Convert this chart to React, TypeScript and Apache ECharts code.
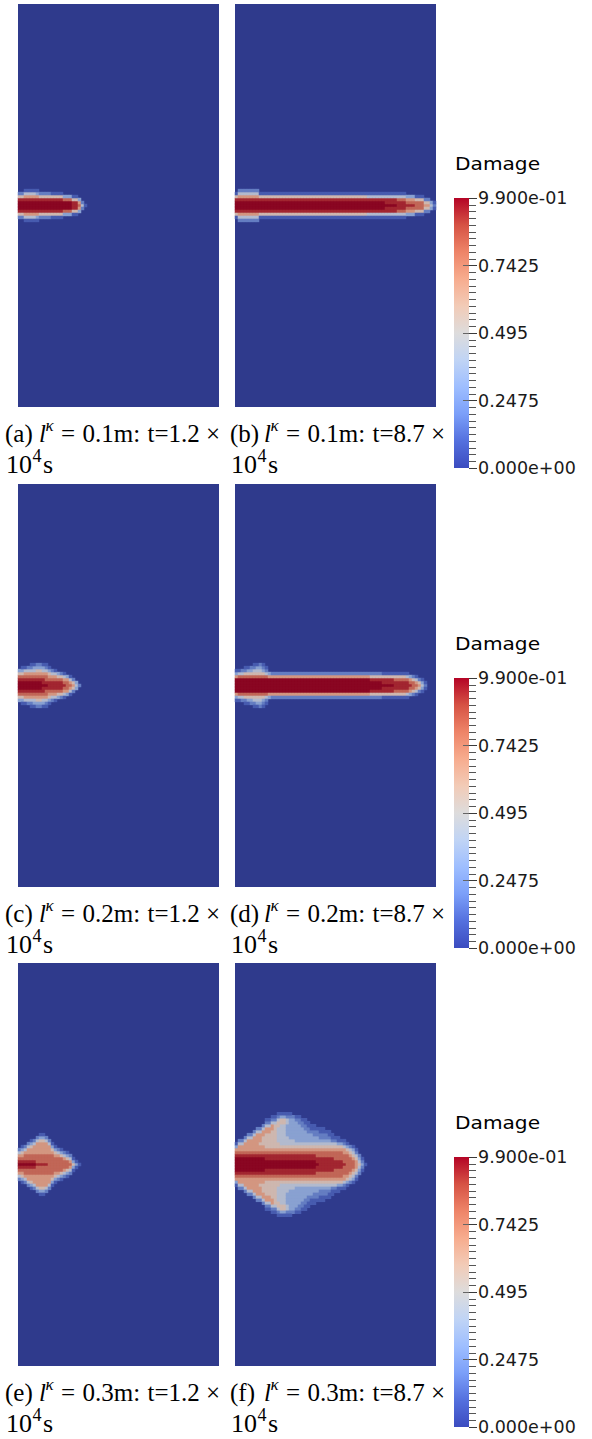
import { useEffect, useRef } from "react";
import * as echarts from "echarts";

const WIDTH = 592;
const HEIGHT = 1439;

// ---- data: damage fields ----
// Each panel is 67 columns (3 px each) by 135 rows; the crack runs along the middle row.
// Every entry is [half-profile, number of consecutive columns with that profile].
// A half-profile lists digits from the crack axis outwards (one per row);
// digit n stands for a damage of n / 9 * 0.99. The field is symmetric about the axis.
const damageA: [string, number][] = [
  ["998520", 2], ["998641", 4], ["998631", 1], ["99852", 4], ["99851", 4],
  ["9973", 3], ["8851", 2], ["763", 1], ["42", 1], ["1", 1],
];
const damageB: [string, number][] = [
  ["99851", 1], ["998642", 7], ["99851", 36], ["99841", 6], ["98841", 4],
  ["88741", 3], ["8763", 3], ["7751", 3], ["652", 2], ["43", 1], ["21", 1],
];
const damageC: [string, number][] = [
  ["998753", 1], ["9987531", 1], ["9987641", 1], ["9987642", 1], ["99876421", 1],
  ["99876431", 1], ["99876532", 2], ["98876431", 1], ["98776421", 1], ["8876531", 1],
  ["887642", 1], ["887641", 1], ["88753", 1], ["88752", 1], ["87641", 1],
  ["7763", 1], ["7641", 1], ["652", 1], ["43", 1], ["2", 1],
];
const damageD: [string, number][] = [
  ["999631", 1], ["999741", 1], ["999742", 1], ["9997521", 1], ["9997531", 1],
  ["9997532", 1], ["99975421", 1], ["99975431", 1], ["99975432", 1], ["99975321", 1],
  ["9997421", 1], ["99963", 1], ["99962", 33], ["99852", 4], ["98851", 4], ["88751", 4],
  ["88741", 1], ["8763", 1], ["7752", 1], ["7641", 1], ["652", 1], ["431", 1], ["21", 1],
];
const damageE: [string, number][] = [
  ["987642", 1], ["9876531", 1], ["9877642", 1], ["98776642", 1], ["987766531", 1],
  ["987766642", 1], ["8777666642", 1], ["87776666531", 2], ["8777666642", 1],
  ["777766642", 1], ["77776531", 1], ["7776531", 1], ["777642", 1], ["777531", 1],
  ["77642", 1], ["77531", 1], ["7642", 1], ["531", 1], ["31", 1], ["1", 1],
];
const damageF: [string, number][] = [
  ["99987631", 1], ["999876642", 2], ["9998766642", 1], ["99987666642", 2],
  ["999876666642", 1], ["9998766666642", 1], ["9998766566642", 1], ["99987665556642", 1],
  ["9988765555566421", 2], ["99887655555566421", 1], ["99887655555555421", 1],
  ["998876554444455421", 1], ["998876544444445531", 2], ["998876544433334421", 1],
  ["998876544333333321", 1], ["99887654433333332", 1], ["99887654333333321", 1],
  ["99887654333333221", 1], ["9988765433333221", 1], ["9988765433332211", 1],
  ["998876543332211", 1], ["99887654333211", 1], ["99887654332211", 1],
  ["9887765433221", 1], ["8887765432211", 2], ["888776543221", 1], ["888776543211", 1],
  ["88877654211", 1], ["8877765421", 1], ["8877765311", 1], ["887776531", 1],
  ["877766421", 1], ["77776531", 1], ["7776542", 1], ["7765431", 1], ["665421", 1],
  ["5432", 1], ["321", 1], ["1", 1],
];
const panelFields = [damageA, damageB, damageC, damageD, damageE, damageF];

const DAMAGE_MAX = 0.99;
const colorbarTicks = [0, 0.2475, 0.495, 0.7425, 0.99];
const colorbarLabels = ["0.000e+00", "0.2475", "0.495", "0.7425", "9.900e-01"];
const colorbarTitle = "Damage";

const captionLetters = ["a", "b", "c", "d", "e", "f"];
const kappaLengths = ["0.1", "0.2", "0.3"];
const captionTimes = ["1.2", "8.7"];

// ---- layout / style ----
const PANEL_COLS = 67;
const PANEL_ROWS = 135;
const CENTER_ROW = 67;
const PANEL_TOPS = [4, 484, 963];
const PANEL_LEFTS = [18, 235];
const PANEL_W = 201;
const PANEL_H = 403;
const CB_LEFT = 454;
const CB_W = 15;
const CB_H = 270;
const CB_TOP_OFFSET = 194; // from panel top
const CAPTION_LEFTS = [5, 230];

const PANEL_COLORS = [
  "#2f3a8c", "#4a5fb3", "#6c86c6", "#98aed6", "#c6c4c8",
  "#d8a690", "#c97761", "#a52a32", "#8a0622",
];
const CB_COLORS = [
  "#3b4cc0", "#5470de", "#7b9ff9", "#9ebeff", "#c0d4f5", "#dddcdc",
  "#f2cbb7", "#f7ac8e", "#ee8468", "#d65244", "#b40426",
];

function fieldCells(profiles: [string, number][]) {
  const cells: number[][] = [];
  let col = 0;
  for (const [profile, count] of profiles) {
    for (let k = 0; k < count; k++) {
      for (let d = 0; d < profile.length; d++) {
        const v = (Number(profile[d]) / 9) * DAMAGE_MAX;
        if (v <= 0) continue;
        cells.push([col, CENTER_ROW - d, v]);
        if (d > 0) cells.push([col, CENTER_ROW + d, v]);
      }
      col++;
    }
  }
  return cells;
}

function labelFor(v: number) {
  const i = colorbarTicks.findIndex((t) => Math.abs(t - v) < 1e-6);
  return i >= 0 ? colorbarLabels[i] : "";
}

const SERIF = '"Liberation Serif", "Times New Roman", serif';
const SANS = '"DejaVu Sans", sans-serif';

function txt(x: number, y: number, text: string, size: number, family: string, italic = false, extra: any = {}) {
  return {
    type: "text",
    x,
    y,
    silent: true,
    ...extra,
    style: {
      text,
      fontSize: size,
      fontFamily: family,
      fontStyle: italic ? "italic" : "normal",
      fill: "#000",
      align: "left",
      verticalAlign: "middle",
    },
  };
}

function buildOption() {
  const colCats = Array.from({ length: PANEL_COLS }, (_, i) => String(i));
  const rowCats = Array.from({ length: PANEL_ROWS }, (_, i) => String(i));

  const grids: any[] = [];
  const xAxes: any[] = [];
  const yAxes: any[] = [];
  const series: any[] = [];
  const graphics: any[] = [];

  // panels
  PANEL_TOPS.forEach((top, r) => {
    PANEL_LEFTS.forEach((left, k) => {
      const i = r * 2 + k;
      grids.push({
        left, top, width: PANEL_W, height: PANEL_H,
        show: true, backgroundColor: PANEL_COLORS[0], borderWidth: 0,
      });
      xAxes.push({ type: "category", gridIndex: i, data: colCats, show: false });
      yAxes.push({ type: "category", gridIndex: i, data: rowCats, show: false });
      series.push({
        type: "heatmap",
        xAxisIndex: i,
        yAxisIndex: i,
        data: fieldCells(panelFields[i]),
        progressive: 0,
        silent: true,
        emphasis: { disabled: true },
      });
    });
  });

  const tickColor = "#3a3a3a";
  // colorbars
  PANEL_TOPS.forEach((top, k) => {
    const g = 6 + k;
    const cbTop = top + CB_TOP_OFFSET;
    grids.push({ left: CB_LEFT, top: cbTop, width: CB_W, height: CB_H, show: false });
    xAxes.push({ type: "value", gridIndex: g, min: 0, max: 1, show: false });
    yAxes.push({
      type: "value", gridIndex: g, min: 0, max: DAMAGE_MAX, interval: 0.2475,
      position: "right",
      show: true,
      axisLine: { show: false, onZero: false },
      splitLine: { show: false },
      axisTick: { show: true, inside: false, length: 8, lineStyle: { color: tickColor, width: 1 } },
      minorTick: { show: true, splitNumber: 10, length: 7, lineStyle: { color: "#555", width: 1 } },
      axisLabel: {
        show: true, inside: false, margin: 9, fontFamily: SANS, fontSize: 17.5, color: "#1a1a1a",
        showMinLabel: true, showMaxLabel: true, formatter: (v: number) => labelFor(v),
      },
      z: 5,
    });
    yAxes.push({
      type: "value", gridIndex: g, min: 0, max: DAMAGE_MAX, interval: 0.2475,
      position: "left", offset: -9,
      show: true,
      axisLine: { show: false, onZero: false },
      splitLine: { show: false },
      axisLabel: { show: false },
      axisTick: {
        show: true, inside: true, length: 6,
        customValues: colorbarTicks.slice(1, 4),
        lineStyle: { color: "#666", width: 1 },
      },
      minorTick: { show: false },
      z: 5,
    });
    series.push({
      type: "custom",
      xAxisIndex: g,
      yAxisIndex: 6 + k * 2,
      data: [[0, DAMAGE_MAX]],
      silent: true,
      z: 1,
      renderItem: (_p: any, api: any) => {
        const p0 = api.coord([0, api.value(1)]);
        const p1 = api.coord([1, 0]);
        return {
          type: "rect",
          shape: { x: p0[0], y: p0[1], width: p1[0] - p0[0], height: p1[1] - p0[1] },
          style: {
            fill: new echarts.graphic.LinearGradient(
              0, 1, 0, 0,
              CB_COLORS.map((c, j) => ({ offset: j / (CB_COLORS.length - 1), color: c }))
            ),
          },
        };
      },
    });
    graphics.push(
      txt(455, cbTop - 34, colorbarTitle, 18, SANS, false, { scaleX: 1.12 })
    );
  });

  // captions
  PANEL_TOPS.forEach((top, r) => {
    CAPTION_LEFTS.forEach((x0, k) => {
      const letter = captionLetters[r * 2 + k];
      const y1 = top + 429;
      const y2 = top + 460;
      graphics.push(
        txt(x0, y1, `(${letter})`, 25, SERIF),
        txt(x0 + 34, y1, "l", 25, SERIF, true),
        txt(x0 + 40.5, y1 - 8, "κ", 17, SERIF, true),
        txt(x0 + 56, y1, "=", 25, SERIF),
        txt(x0 + 77.5, y1, `${kappaLengths[r]}m:`, 25, SERIF),
        txt(x0 + 142.5, y1, `t=${captionTimes[k]}`, 25, SERIF),
        txt(x0 + 201, y1, "×", 25, SERIF),
        txt(x0 + 1, y2, "10", 26, SERIF),
        txt(x0 + 27.5, y2 - 8, "4", 18, SERIF),
        txt(x0 + 38, y2, "s", 26, SERIF)
      );
    });
  });

  return {
    animation: false,
    backgroundColor: "#ffffff",
    grid: grids,
    xAxis: xAxes,
    yAxis: yAxes,
    visualMap: [
      {
        type: "continuous",
        show: false,
        min: 0,
        max: DAMAGE_MAX,
        dimension: 2,
        seriesIndex: [0, 1, 2, 3, 4, 5],
        inRange: { color: PANEL_COLORS },
      },
    ],
    series,
    graphic: { elements: graphics },
  };
}

export default function App() {
  const ref = useRef<HTMLDivElement>(null);
  useEffect(() => {
    const chart = echarts.init(ref.current!, null, { renderer: "svg" });
    chart.setOption(buildOption() as any);
    return () => chart.dispose();
  }, []);
  return (
    <div
      ref={ref}
      style={{ position: "absolute", left: 0, top: 0, width: WIDTH, height: HEIGHT }}
    />
  );
}
